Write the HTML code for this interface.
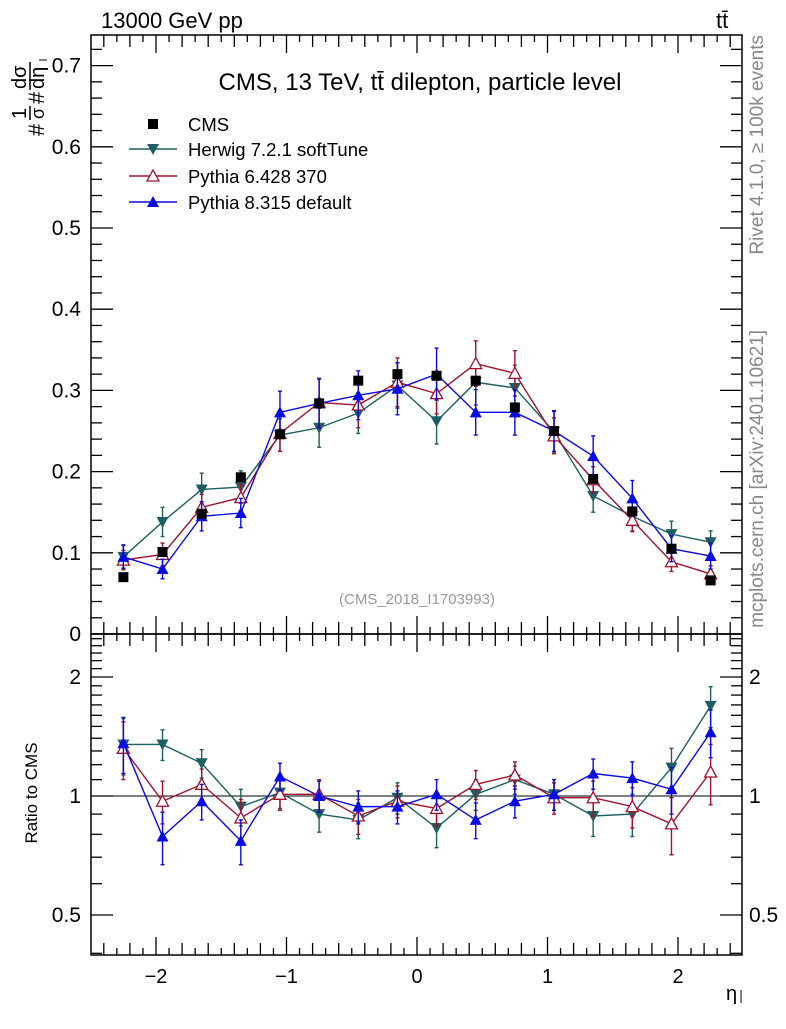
<!DOCTYPE html>
<html><head><meta charset="utf-8"><style>
body{margin:0;background:#fff}
svg{font-family:"Liberation Sans",sans-serif}
</style></head><body>
<svg id="c" width="786" height="1024" xmlns="http://www.w3.org/2000/svg"></svg>
<script>
const etas=[-2.25,-1.95,-1.65,-1.35,-1.05,-0.75,-0.45,-0.15,0.15,0.45,0.75,1.05,1.35,1.65,1.95,2.25];
const cmsVals=[0.070,0.101,0.148,0.193,0.246,0.284,0.312,0.320,0.318,0.312,0.279,0.250,0.191,0.151,0.105,0.066];
const herwigVals=[0.095,0.138,0.178,0.181,0.245,0.254,0.272,0.306,0.262,0.310,0.303,0.249,0.170,0.145,0.123,0.113];
const py6Vals=[0.091,0.098,0.156,0.168,0.247,0.285,0.282,0.310,0.296,0.333,0.321,0.244,0.190,0.140,0.089,0.074];
const py8Vals=[0.095,0.080,0.145,0.149,0.273,0.284,0.294,0.302,0.320,0.273,0.273,0.250,0.219,0.167,0.105,0.096];
const herwigErr=[0.015,0.018,0.020,0.020,0.020,0.024,0.025,0.028,0.028,0.028,0.028,0.025,0.020,0.018,0.016,0.014];
const py6Err=[0.012,0.014,0.016,0.016,0.022,0.030,0.028,0.030,0.025,0.028,0.028,0.022,0.016,0.014,0.012,0.010];
const py8Err=[0.014,0.012,0.018,0.018,0.026,0.030,0.030,0.032,0.032,0.028,0.028,0.025,0.025,0.022,0.016,0.016];
const herwigRatio=[1.35,1.35,1.21,0.94,1.02,0.90,0.87,0.99,0.83,1.01,1.10,1.01,0.89,0.90,1.18,1.69];
const py6Ratio=[1.32,0.97,1.07,0.88,1.01,1.01,0.89,0.97,0.93,1.07,1.13,0.99,0.99,0.94,0.85,1.15];
const py8Ratio=[1.36,0.79,0.97,0.77,1.12,1.00,0.94,0.94,1.01,0.87,0.97,1.01,1.14,1.11,1.04,1.45];
const ratioErr=[0.22,0.12,0.10,0.10,0.09,0.09,0.09,0.09,0.09,0.09,0.09,0.09,0.10,0.11,0.14,0.20];
const mainTicks=[0,0.1,0.2,0.3,0.4,0.5,0.6,0.7];
const ratioTicks=[0.5,1,2];
const xTicks=[-2,-1,0,1,2];

const NS="http://www.w3.org/2000/svg",svg=document.getElementById('c');
const L=91,R=742,T=35,B=634,RB=955;
const X=v=>417+(v)*130.5;
const Y=v=>B-v*812;
const YR=v=>796-Math.log2(v)*119;
function el(tag,a,p){const e=document.createElementNS(NS,tag);for(const k in a)e.setAttribute(k,a[k]);(p||svg).appendChild(e);return e;}
function txt(s,x,y,a,p){const e=el('text',Object.assign({x:x,y:y,'font-size':19},a),p);e.textContent=s;return e;}

const f1=el('rect',{x:L,y:T,width:R-L,height:B-T,fill:'none',stroke:'#000','stroke-width':1.5});

const f2=el('rect',{x:L,y:B,width:R-L,height:RB-B,fill:'none',stroke:'#000','stroke-width':1.5});


const xt=el('g',{stroke:'#000','stroke-width':1.3});

for(let i=-24;i<=24;i++){const v=i/10,x=X(v);const len=(i%10==0)?18:(i%2==0?12:7);
 for(const [y0,d] of [[T,1],[B,-1],[B,1],[RB,-1]]) el('line',{x1:x,x2:x,y1:y0,y2:y0+d*len},xt);}
xTicks.forEach(v=>{const t=txt(v<0?'\u2212'+(-v):''+v,X(v),983,{'text-anchor':'middle','font-size':20});
 });
const xl=txt('η',726,1000,{'font-size':20});
el('line',{x1:741,x2:741,y1:990,y2:1003,stroke:'#000','stroke-width':1});

const yt=el('g',{stroke:'#000','stroke-width':1.3});

for(let i=0;i<=36;i++){const v=i*0.02,y=Y(v);if(y<T)break;const len=(i%5==0)?22:11;
 el('line',{x1:L,x2:L+len,y1:y,y2:y},yt);el('line',{x1:R,x2:R-len,y1:y,y2:y},yt);}
mainTicks.forEach(v=>{const t=txt(v==0?'0':v.toFixed(1),81,Y(v)+7,{'text-anchor':'end','font-size':21});
 });

const rt=el('g',{stroke:'#000','stroke-width':1.3});

[0.4,0.5,0.6,0.7,0.8,0.9,1,1.1,1.2,1.3,1.4,1.5,1.6,1.7,1.8,1.9,2,2.1,2.2,2.3,2.4,2.5].forEach(v=>{const y=YR(v);if(y<B||y>RB)return;
 const len=ratioTicks.includes(v)?22:11;el('line',{x1:L,x2:L+len,y1:y,y2:y},rt);el('line',{x1:R,x2:R-len,y1:y,y2:y},rt);});
ratioTicks.forEach(v=>{const s=''+v;
 let t=txt(s,81,YR(v)+7,{'text-anchor':'end','font-size':21});
 t=txt(s,749,YR(v)+7,{'font-size':21});});
const one=el('line',{x1:L,x2:R,y1:YR(1),y2:YR(1),stroke:'#000','stroke-width':1});


let t=txt('13000 GeV pp',101,28,{'font-size':22});
t=txt('tt̄',716,28,{'font-size':22});
t=txt('CMS, 13 TeV, tt̄ dilepton, particle level',420,90,{'text-anchor':'middle','font-size':24});
t=txt('(CMS_2018_I1703993)',417,604,{'text-anchor':'middle','font-size':15,fill:'#999'});
t=txt('Rivet 4.1.0, ≥ 100k events',0,0,{'font-size':19,fill:'#888','text-anchor':'end',transform:'translate(763,35) rotate(-90)'});
t=txt('mcplots.cern.ch [arXiv:2401.10621]',0,0,{'font-size':19,fill:'#888','text-anchor':'end',transform:'translate(763,330) rotate(-90)'});

const yg=el('g',{transform:'rotate(-90)','font-size':20});
txt('#',-136,44,{'font-size':22},yg);
txt('1',-119,26,{'font-size':20},yg);
el('line',{x1:-120,x2:-106,y1:30,y2:30,stroke:'#000','stroke-width':1.5},yg);
txt('σ',-119,44,{'font-size':18},yg);
txt('#',-104,44,{'font-size':22},yg);
txt('dσ',-89,26,{'font-size':20},yg);
el('line',{x1:-90,x2:-62,y1:30,y2:30,stroke:'#000','stroke-width':1.5},yg);
txt('dη',-89,44,{'font-size':20},yg);
el('line',{x1:-60,x2:-60,y1:39,y2:47,stroke:'#000','stroke-width':1},yg);

t=txt('Ratio to CMS',0,0,{'font-size':17,'text-anchor':'middle',transform:'translate(37,793) rotate(-90)'});

function marker(g,type,x,y,c){
 if(type=='sq')el('rect',{x:x-5,y:y-5,width:10,height:10,fill:c},g);
 else if(type=='down')el('polygon',{points:`${x-6},${y-5} ${x+6},${y-5} ${x},${y+6}`,fill:c},g);
 else if(type=='up')el('polygon',{points:`${x-6},${y+5} ${x+6},${y+5} ${x},${y-6}`,fill:c},g);
 else if(type=='upo')el('polygon',{points:`${x-6},${y+5} ${x+6},${y+5} ${x},${y-6}`,fill:'#fff',stroke:c,'stroke-width':1.3},g);
}
function series(name,vals,errs,ys,c,m){
 const g=el('g',{});
 el('polyline',{points:etas.map((e,i)=>X(e)+','+ys(vals[i])).join(' '),fill:'none',stroke:c,'stroke-width':1.4},g);
 etas.forEach((e,i)=>{const x=X(e);const y1=ys(vals[i]-errs[i]),y2=ys(vals[i]+errs[i]);
  el('line',{x1:x,x2:x,y1:y1,y2:y2,stroke:c,'stroke-width':1.4},g);
  el('line',{x1:x-2,x2:x+2,y1:y1,y2:y1,stroke:c,'stroke-width':1.4},g);
  el('line',{x1:x-2,x2:x+2,y1:y2,y2:y2,stroke:c,'stroke-width':1.4},g);
  marker(g,m,x,ys(vals[i]),c);});
}
const HC='#1d5e62',P6='#a3112b',P8='#0a0ae6';
series('herwig-series',herwigVals,herwigErr,Y,HC,'down');
series('pythia6-series',py6Vals,py6Err,Y,P6,'upo');
series('pythia8-series',py8Vals,py8Err,Y,P8,'up');
const cg=el('g',{});
etas.forEach((e,i)=>marker(cg,'sq',X(e),Y(cmsVals[i]),'#000'));
series('herwig-ratio',herwigRatio,ratioErr,YR,HC,'down');
series('pythia6-ratio',py6Ratio,ratioErr,YR,P6,'upo');
series('pythia8-ratio',py8Ratio,ratioErr,YR,P8,'up');

const lg=el('g',{});
[['CMS','#000','sq',124],['Herwig 7.2.1 softTune',HC,'down',149],['Pythia 6.428 370',P6,'upo',176],['Pythia 8.315 default',P8,'up',202]].forEach(([n,c,m,y])=>{
 const e=el('g',{},lg);
 if(m!='sq')el('line',{x1:129,x2:177,y1:y,y2:y,stroke:c,'stroke-width':1.4},e);
 marker(e,m,153,y,c);txt(n,188,y+7,{'font-size':18.5},e);});
</script>
</body></html>
